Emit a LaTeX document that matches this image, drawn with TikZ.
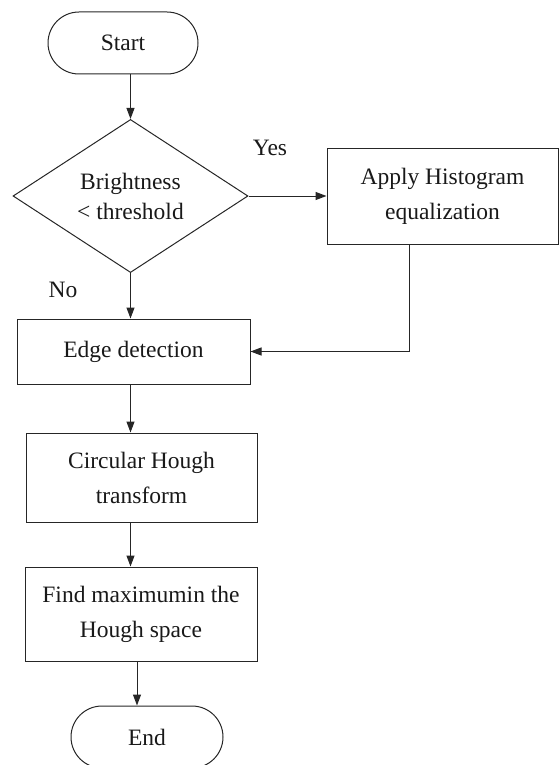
\documentclass[tikz,border=0pt]{standalone}
\usepackage{fontspec}
\setmainfont{Liberation Serif}
\usetikzlibrary{positioning, arrows.meta, shapes.geometric}

\begin{document}
\begin{tikzpicture}[x=1pt, y=-1pt, line width=1pt, draw=black!85,
  every node/.style={font=\fontsize{23.5}{35}\selectfont, text=black!90},
  >={Triangle[length=11pt,width=8pt]},
  terminal/.style={draw, rounded corners=31pt, minimum width=150pt, minimum height=62pt},
  procbox/.style={draw, align=center, inner sep=0pt},
  decision/.style={draw, diamond, align=center, inner sep=0pt, minimum width=235pt, minimum height=148pt}]
  \useasboundingbox (0,0) rectangle (559,765);
  \node[terminal] (start) at (123,43) {Start};
  \node[decision, font=\fontsize{23.5}{30}\selectfont] (bright) at (130.5,196) {Brightness\\< threshold};
  \node[procbox, minimum width=231pt, minimum height=96pt] (hist) at (442.5,196) {Apply Histogram\\equalization};
  \node[procbox, minimum width=233pt, minimum height=65pt] (edge) at (133.5,351.5) {Edge detection};
  \node[procbox, minimum width=231pt, minimum height=89pt] (circ) at (141.5,477.5) {Circular Hough\\transform};
  \node[procbox, minimum width=232pt, minimum height=94pt] (find) at (141,614) {Find maximumin the\\Hough space};
  \node[terminal, minimum width=152pt] (stop) at (147,737) {End};
  \node (yes) at (270,148) {Yes};
  \node (no) at (63,290) {No};
  % connectors
  \draw[->] (start.south -| bright.north) -- (bright.north);
  \draw[->] (bright.east) -- (hist.west);
  \draw[->] (bright.south) -- (edge.north -| bright.south);
  \draw[->] ([xshift=-33.5pt]hist.south) |- (edge.east);
  \draw[->] (edge.south -| bright.south) -- (circ.north -| bright.south);
  \draw[->] (circ.south -| bright.south) -- (find.north -| bright.south);
  \draw[->] ([xshift=-4pt]find.south) -- ([xshift=-4pt]find.south |- stop.north);
\end{tikzpicture}
\end{document}
